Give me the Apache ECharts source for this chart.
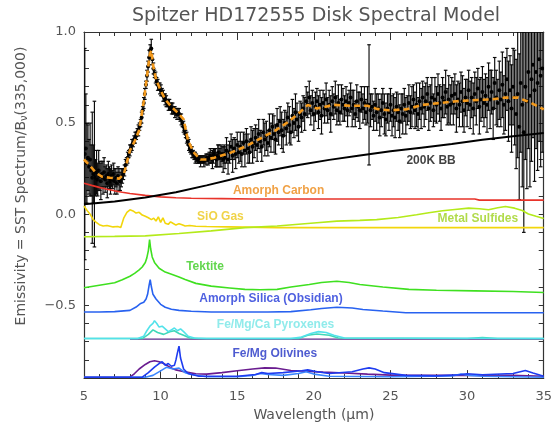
<!DOCTYPE html>
<html><head><meta charset="utf-8">
<script src="https://cdn.jsdelivr.net/npm/echarts@6/dist/echarts.min.js"></script>
<style>html,body{margin:0;padding:0;background:#fff}#c{width:555px;height:427px}</style>
</head><body><div id="c"></div>
<script>
// ---------- spectrum (data points with error bars) ----------
const specWl = [5.05,5.12,5.19,5.26,5.33,5.40,5.47,5.54,5.61,5.68,5.75,5.82,5.89,5.96,6.03,6.10,6.17,6.24,6.31,6.38,6.45,6.52,6.59,6.66,6.73,6.80,6.87,6.94,7.01,7.08,7.15,7.22,7.29,7.36,7.43,7.50,
7.57,7.64,7.71,7.78,7.85,7.92,7.99,8.06,8.13,8.20,
8.27,8.34,8.41,8.48,8.55,8.62,8.69,8.76,8.83,8.90,
8.97,9.04,9.11,9.18,9.25,9.32,9.39,9.46,9.53,9.60,
9.67,9.74,9.81,9.88,9.95,10.02,10.09,10.16,10.23,10.30,
10.37,10.44,10.51,10.58,10.65,10.72,10.79,10.86,10.93,11.00,
11.07,11.14,11.21,11.28,11.35,11.42,11.49,11.56,11.63,11.70,
11.77,11.84,11.91,11.98,12.05,12.12,12.19,12.26,12.33,12.40,
12.47,12.54,12.61,12.68,12.75,12.82,12.89,12.96,13.03,13.10,
13.17,13.24,13.31,13.38,13.45,13.52,13.59,13.66,13.73,13.80,
13.87,13.94,14.01,14.08,14.15,
14.2,14.3,14.4,14.5,14.6,14.7,14.8,14.9,15.0,15.1,
15.2,15.3,15.4,15.5,15.6,15.7,15.8,15.9,16.0,16.1,
16.2,16.3,16.4,16.5,16.6,16.7,16.8,16.9,17.0,17.1,
17.2,17.3,17.4,17.5,17.6,17.7,17.8,17.9,18.0,18.1,
18.2,18.3,18.4,18.5,18.6,18.7,18.8,18.9,19.0,19.1,
19.2,19.3,19.4,19.5,19.6,19.7,19.8,19.9,20.0,20.1,
20.2,20.3,20.4,20.5,20.6,20.7,20.8,20.9,21.0,21.1,
21.2,21.3,21.4,21.5,21.6,21.7,21.8,21.9,22.0,22.1,
22.2,22.3,22.4,22.5,22.6,22.7,22.8,22.9,23.0,23.1,
23.2,23.3,23.4,23.5,23.6,23.7,23.8,23.9,24.0,24.1,
24.2,24.3,24.4,24.5,24.6,24.7,24.8,24.9,25.0,25.1,
25.2,25.3,25.4,25.5,25.6,25.7,25.8,25.9,26.0,26.1,
26.2,26.3,26.4,26.5,26.6,26.7,26.8,26.9,27.0,27.1,
27.2,27.3,27.4,27.5,27.6,27.7,27.8,27.9,28.0,28.1,
28.2,28.3,28.4,28.5,28.6,28.7,28.8,28.9,29.0,29.1,
29.2,29.3,29.4,29.5,29.6,29.7,29.8,29.9,30.0,30.1,
30.2,30.3,30.4,30.5,30.6,30.7,30.8,30.9,31.0,31.1,
31.2,31.3,31.4,31.5,31.6,31.7,31.8,31.9,32.0,32.1,
32.2,32.3,32.4,32.5,32.6,32.7,32.8,32.9,33.0,33.1,
33.2,33.3,33.4,33.5,33.6,33.7,33.8,33.9,34.0,34.1,
34.2,34.3,34.4,34.5,34.6,34.7,34.8,34.9];
const specFlux = [0.33,0.36,0.28,0.31,0.26,0.30,0.24,0.20,0.22,0.22,0.20,0.23,0.19,0.24,0.21,0.18,0.22,0.20,0.23,0.19,0.21,0.17,0.22,0.20,0.18,0.21,0.19,0.22,0.18,0.20,0.17,0.21,0.19,0.18,0.20,0.21,
0.22,0.24,0.27,0.29,0.31,0.33,0.35,0.36,0.38,0.39,
0.41,0.42,0.43,0.45,0.46,0.48,0.50,0.53,0.57,0.61,
0.66,0.71,0.76,0.81,0.86,0.90,0.91,0.85,0.80,0.77,
0.75,0.73,0.71,0.70,0.69,0.68,0.67,0.65,0.64,0.63,
0.62,0.61,0.60,0.60,0.59,0.58,0.58,0.57,0.56,0.56,
0.55,0.56,0.55,0.53,0.52,0.50,0.48,0.46,0.44,0.42,
0.40,0.38,0.36,0.35,0.34,0.33,0.32,0.31,0.31,0.30,
0.30,0.30,0.29,0.30,0.30,0.29,0.30,0.30,0.31,0.30,
0.31,0.32,0.31,0.30,0.32,0.33,0.31,0.30,0.32,0.34,
0.31,0.32,0.33,0.30,0.33,
0.31,0.35,0.30,0.34,0.37,0.32,0.36,0.33,0.38,0.34,
0.37,0.33,0.39,0.35,0.40,0.36,0.34,0.41,0.37,0.39,
0.42,0.38,0.44,0.40,0.37,0.45,0.41,0.43,0.39,0.46,
0.42,0.48,0.44,0.41,0.49,0.45,0.51,0.46,0.43,0.50,
0.47,0.53,0.49,0.45,0.54,0.50,0.56,0.52,0.48,0.55,
0.53,0.58,0.55,0.62,0.60,0.64,0.57,0.61,0.55,0.59,
0.62,0.56,0.60,0.54,0.61,0.58,0.63,0.57,0.60,0.55,
0.62,0.59,0.64,0.57,0.61,0.56,0.63,0.60,0.58,0.62,
0.57,0.61,0.64,0.58,0.60,0.55,0.62,0.59,0.57,0.63,
0.58,0.61,0.56,0.60,0.60,0.57,0.59,0.54,0.60,0.56,
0.58,0.53,0.57,0.61,0.55,0.52,0.58,0.56,0.60,0.54,
0.57,0.53,0.59,0.56,0.51,0.58,0.55,0.60,0.54,0.57,
0.61,0.56,0.59,0.63,0.57,0.60,0.55,0.62,0.58,0.64,
0.59,0.62,0.66,0.58,0.61,0.64,0.57,0.63,0.60,0.66,
0.61,0.58,0.64,0.62,0.67,0.59,0.63,0.60,0.65,0.61,
0.66,0.58,0.63,0.60,0.67,0.62,0.57,0.64,0.61,0.68,
0.60,0.64,0.58,0.66,0.62,0.69,0.59,0.63,0.67,0.61,
0.65,0.60,0.70,0.63,0.67,0.58,0.72,0.64,0.61,0.68,
0.63,0.71,0.60,0.66,0.74,0.62,0.68,0.58,0.70,0.64,
0.55,0.66,0.48,0.72,0.60,0.45,0.70,0.62,0.78,0.65,
0.74,0.82,0.68,0.78,0.72,0.85,0.76,0.80];
const specErr = [0.58,0.30,0.22,0.18,0.15,0.20,0.14,0.36,0.16,0.40,0.10,0.12,0.09,0.11,0.08,0.10,0.07,0.09,0.08,0.07,0.06,0.08,0.07,0.06,0.07,0.06,0.05,0.06,0.07,0.05,0.06,0.05,0.06,0.05,0.05,0.04,
0.03,0.03,0.03,0.02,0.03,0.02,0.03,0.02,0.03,0.02,
0.02,0.03,0.02,0.02,0.03,0.02,0.02,0.03,0.02,0.03,
0.03,0.02,0.03,0.03,0.04,0.03,0.05,0.03,0.03,0.02,
0.03,0.02,0.03,0.02,0.03,0.03,0.02,0.03,0.02,0.03,
0.03,0.02,0.03,0.03,0.02,0.03,0.03,0.02,0.03,0.02,
0.03,0.02,0.03,0.02,0.03,0.02,0.03,0.02,0.02,0.03,
0.02,0.03,0.02,0.02,0.03,0.02,0.02,0.03,0.02,0.02,
0.02,0.02,0.03,0.02,0.02,0.03,0.02,0.03,0.02,0.03,
0.03,0.04,0.03,0.05,0.04,0.03,0.05,0.04,0.06,0.04,
0.05,0.06,0.04,0.07,0.05,
0.06,0.07,0.08,0.06,0.07,0.09,0.06,0.08,0.07,0.06,
0.08,0.07,0.06,0.09,0.07,0.08,0.06,0.07,0.09,0.08,
0.07,0.09,0.08,0.06,0.08,0.07,0.09,0.08,0.07,0.09,
0.08,0.07,0.10,0.08,0.09,0.07,0.08,0.10,0.09,0.07,
0.09,0.08,0.10,0.07,0.09,0.08,0.10,0.09,0.08,0.07,
0.08,0.07,0.09,0.08,0.07,0.09,0.08,0.07,0.09,0.08,
0.07,0.09,0.08,0.10,0.07,0.08,0.09,0.07,0.08,0.10,
0.08,0.07,0.09,0.08,0.10,0.07,0.08,0.09,0.07,0.08,
0.09,0.07,0.08,0.10,0.08,0.07,0.09,0.08,0.10,0.07,
0.08,0.09,0.07,0.10,0.33,0.09,0.07,0.08,0.09,0.10,
0.08,0.10,0.09,0.08,0.11,0.09,0.08,0.10,0.09,0.11,
0.09,0.11,0.08,0.10,0.09,0.08,0.11,0.09,0.10,0.08,
0.10,0.09,0.11,0.08,0.10,0.12,0.09,0.10,0.11,0.09,
0.11,0.10,0.09,0.12,0.10,0.11,0.09,0.12,0.10,0.11,
0.10,0.12,0.11,0.09,0.12,0.10,0.13,0.11,0.10,0.12,
0.11,0.13,0.10,0.12,0.11,0.14,0.12,0.10,0.13,0.11,
0.13,0.11,0.14,0.12,0.13,0.11,0.15,0.12,0.14,0.13,
0.12,0.15,0.13,0.16,0.12,0.17,0.14,0.15,0.13,0.16,
0.15,0.18,0.16,0.20,0.17,0.22,0.19,0.24,0.21,0.26,
0.30,0.35,0.40,0.38,0.45,0.55,0.40,0.48,0.42,0.50,
0.45,0.40,0.50,0.42,0.48,0.45,0.50,0.46];

// ---------- model (orange dashed) ----------
const modelWl  = [5,5.4,5.8,6.2,6.7,7.3,7.6,8.0,8.3,8.6,8.9,9.1,9.3,9.4,9.5,9.7,10.0,10.3,10.7,11.2,11.5,11.8,12.2,12.6,13.0,13.5,14.5,15.5,16.5,17.5,18.3,19.1,19.6,20.2,21.3,22.4,23.5,24.1,24.9,26.0,27.1,28.2,29.3,30.3,31.6,32.5,33.3,34.2,35];
const modelVal = [0.30,0.265,0.225,0.205,0.20,0.195,0.22,0.35,0.40,0.46,0.62,0.75,0.88,0.90,0.82,0.74,0.68,0.63,0.59,0.55,0.52,0.40,0.335,0.30,0.30,0.31,0.335,0.37,0.415,0.46,0.505,0.56,0.60,0.58,0.60,0.595,0.595,0.578,0.57,0.575,0.60,0.61,0.62,0.625,0.63,0.64,0.64,0.61,0.575];

// ---------- components ----------
const bbWl  = [5,7,9,11,13,15,17,19,21,23,25,27,29,31,33,35];
const bbVal = [0.055,0.07,0.092,0.12,0.158,0.198,0.238,0.27,0.298,0.322,0.345,0.365,0.385,0.408,0.428,0.445];

const carbonWl  = [5,5.5,6,6.5,7,7.5,8,9,10,11,12,14,16,20,25,30.5,30.8,35];
const carbonVal = [0.17,0.158,0.147,0.137,0.128,0.12,0.113,0.103,0.095,0.09,0.087,0.085,0.083,0.083,0.083,0.083,0.077,0.077];

const sioWl  = [5.0,5.2,5.4,5.6,5.8,6.0,6.25,6.5,6.9,7.2,7.4,7.6,7.8,8.0,8.2,8.4,8.6,8.8,9.0,9.2,9.4,9.55,9.7,9.85,10.0,10.15,10.3,10.5,10.65,10.8,11.0,11.2,11.4,11.6,11.9,12.3,13,14.4,17.6,20,35];
const sioVal = [0.045,0.02,0.0,-0.03,-0.045,-0.058,-0.065,-0.062,-0.07,-0.068,-0.073,-0.02,0.01,0.024,0.018,0.006,0.01,-0.005,-0.012,-0.02,-0.03,-0.022,-0.038,-0.015,-0.045,-0.02,-0.05,-0.056,-0.042,-0.05,-0.06,-0.052,-0.058,-0.065,-0.062,-0.066,-0.068,-0.07,-0.074,-0.074,-0.074];

const sulfWl  = [5,7,9,11.2,13.3,15.5,17.6,19,20.2,21.5,23,24.1,25.5,26.7,27.5,28.4,29.2,30.1,30.8,31.4,32,32.5,33.1,33.6,34,34.5,35];
const sulfVal = [-0.124,-0.122,-0.119,-0.106,-0.092,-0.074,-0.065,-0.055,-0.047,-0.038,-0.034,-0.03,-0.018,-0.003,0.008,0.019,0.026,0.033,0.03,0.024,0.035,0.042,0.033,0.02,0.001,-0.012,-0.024];

const tektWl  = [5,6,7,7.5,8,8.3,8.6,8.8,9.0,9.1,9.2,9.28,9.35,9.45,9.6,9.9,10.3,10.8,11.2,11.6,12.3,13.3,14.5,15.5,16.5,17.6,18.5,19.7,20.5,21.5,22.3,23,24.5,26.2,28,30.5,33,35];
const tektVal = [-0.404,-0.39,-0.377,-0.36,-0.341,-0.325,-0.306,-0.29,-0.265,-0.24,-0.2,-0.14,-0.19,-0.235,-0.265,-0.297,-0.318,-0.333,-0.345,-0.359,-0.38,-0.395,-0.405,-0.413,-0.415,-0.413,-0.4,-0.386,-0.375,-0.368,-0.375,-0.386,-0.4,-0.413,-0.418,-0.421,-0.425,-0.43];

const silicaWl  = [5,6,7,8,8.4,8.7,8.9,9.05,9.15,9.25,9.32,9.4,9.5,9.7,10.0,10.3,10.7,11.2,12,13.3,15,17,18.5,19.8,20.5,21.5,22.5,23.2,24.5,26,30,35];
const silicaVal = [-0.537,-0.537,-0.535,-0.528,-0.51,-0.49,-0.484,-0.466,-0.44,-0.39,-0.36,-0.40,-0.44,-0.466,-0.495,-0.511,-0.522,-0.528,-0.533,-0.537,-0.537,-0.537,-0.535,-0.525,-0.518,-0.511,-0.515,-0.523,-0.532,-0.541,-0.541,-0.541];

const pyrBaseWl  = [8,35];
const pyrBaseVal = [-0.686,-0.686];
const pyr1Wl  = [5,8.5,8.9,9.1,9.3,9.5,9.6,9.75,9.9,10.1,10.3,10.5,10.7,10.9,11.1,11.3,11.5,11.8,12.2,13,18.5,19.2,19.8,20.3,20.8,21.3,22,35];
const pyr1Val = [-0.683,-0.683,-0.67,-0.64,-0.615,-0.60,-0.585,-0.60,-0.62,-0.615,-0.63,-0.645,-0.635,-0.625,-0.64,-0.63,-0.645,-0.67,-0.68,-0.683,-0.683,-0.675,-0.655,-0.645,-0.65,-0.665,-0.68,-0.683];
const pyr2Wl  = [5,8.8,9.2,9.5,9.8,10.2,10.6,10.9,11.2,11.5,11.9,12.5,19,19.6,20.2,21,21.6,30,31,32,35];
const pyr2Val = [-0.683,-0.683,-0.66,-0.635,-0.65,-0.66,-0.645,-0.64,-0.655,-0.665,-0.68,-0.683,-0.683,-0.665,-0.658,-0.665,-0.68,-0.683,-0.677,-0.683,-0.683];

const olivPWl  = [5,8,8.3,8.6,9,9.3,9.6,9.9,10.2,10.6,11,11.6,12.3,13,14,15,16,16.8,17.5,18.5,19.5,20.6,22,23.5,25.4,28,30,32.9,35];
const olivPVal = [-0.895,-0.895,-0.875,-0.85,-0.825,-0.81,-0.805,-0.81,-0.82,-0.84,-0.855,-0.866,-0.876,-0.878,-0.87,-0.86,-0.85,-0.844,-0.845,-0.858,-0.862,-0.867,-0.872,-0.878,-0.885,-0.885,-0.885,-0.885,-0.89];
const olivBWl  = [5,8.8,9.2,9.6,9.9,10.1,10.3,10.5,10.7,10.9,11.0,11.1,11.2,11.3,11.5,11.8,12.5,15,16.2,16.6,17,18,19.2,19.6,20.2,21,22.5,23.2,23.6,24,24.6,26,28,29.5,30,31,33,33.8,34.3,35];
const olivBVal = [-0.895,-0.895,-0.87,-0.84,-0.82,-0.81,-0.83,-0.82,-0.835,-0.83,-0.80,-0.76,-0.725,-0.79,-0.85,-0.875,-0.89,-0.89,-0.88,-0.87,-0.875,-0.87,-0.86,-0.855,-0.865,-0.875,-0.865,-0.85,-0.844,-0.85,-0.87,-0.885,-0.888,-0.882,-0.876,-0.882,-0.875,-0.858,-0.872,-0.89];
const olivLWl  = [5,9,9.5,10,10.4,10.8,11.2,11.6,12,13,15,16,16.5,17,18,19,19.5,20,21,25,29,29.6,30.2,31,35];
const olivLVal = [-0.895,-0.895,-0.885,-0.86,-0.84,-0.85,-0.845,-0.87,-0.88,-0.893,-0.893,-0.885,-0.875,-0.88,-0.885,-0.875,-0.865,-0.878,-0.89,-0.893,-0.888,-0.878,-0.885,-0.89,-0.895];

// ---------- labels (wavelength, value, text, colour) ----------
const labelWl   = [27.65, 17.7, 13.9, 30.7, 12.9, 17.2, 17.5, 17.45];
const labelVal  = [0.291, 0.131, -0.013, -0.024, -0.286, -0.463, -0.607, -0.767];
const labelText = ['200K BB','Amorph Carbon','SiO Gas','Metal Sulfides','Tektite','Amorph Silica (Obsidian)','Fe/Mg/Ca Pyroxenes','Fe/Mg Olivines'];
const labelColor= ['#111','#ec8a16','#ecc81a','#9ed21e','#3ccc22','#2238d8','#74e6e6','#2232c4'];

const xTicks = [5,10,15,20,25,30,35];
const yTicks = [-0.5,0.0,0.5,1.0];

// ---------- chart ----------
const chart = echarts.init(document.getElementById('c'), null, {renderer:'canvas'});
const pairs = (w,v) => w.map((x,i)=>[x,v[i]]);
const FONT = 'DejaVu Sans';
const GREY = '#555';
const axisCol = '#333';

function lineSeries(w,v,color,width,z){
  return {type:'line', data:pairs(w,v), showSymbol:false, symbol:'none', smooth:false,
    lineStyle:{color:color,width:width}, z:z, silent:true, animation:false};
}

const yLab = v => {
  const r = Math.round(v*2)/2;
  if (Math.abs(v - r) > 1e-6 || !yTicks.some(t=>Math.abs(t-r)<1e-6)) return '';
  return (r<0?'\u2212':'') + Math.abs(r).toFixed(1);
};

const commonX = {type:'value', min:5, max:35, interval:5, splitLine:{show:false},
  axisLine:{show:true,onZero:false,lineStyle:{color:axisCol,width:1.2}},
  axisTick:{show:true,inside:true,length:8,lineStyle:{color:axisCol}},
  minorTick:{show:true,splitNumber:5,length:4,lineStyle:{color:axisCol}}};
const commonY = {type:'value', min:-0.9, max:1.0, interval:0.1, splitLine:{show:false},
  axisLine:{show:true,onZero:false,lineStyle:{color:axisCol,width:1.2}},
  axisTick:{show:true,inside:true,length:5,lineStyle:{color:axisCol}}};

const option = {
  backgroundColor:'#fff',
  animation:false,
  grid:{left:84, right:6, top:32, bottom:39, containLabel:false},
  graphic:[
    {type:'text', x:316, y:16, style:{text:'Spitzer HD172555 Disk Spectral Model', fill:GREY,
      font:'19px "DejaVu Sans"', textAlign:'center', textVerticalAlign:'middle'}},
    {type:'text', x:21, y:186, rotation:Math.PI/2,
      style:{text:'Emissivity = SST Spectrum/B{s|\u03bd}(335,000)', fill:GREY,
        fontSize:14, fontFamily:FONT, align:'center', verticalAlign:'middle',
        rich:{s:{fontSize:10, fontFamily:FONT, fill:GREY, padding:[7,0,0,0]}}}}
  ],
  xAxis:[
    Object.assign({}, commonX, {position:'bottom',
      axisLabel:{color:GREY,fontSize:13,fontFamily:FONT,margin:12,
        formatter:v=> xTicks.includes(v)? String(v):''},
      name:'Wavelength (\u00b5m)', nameLocation:'middle', nameGap:24,
      nameTextStyle:{color:GREY,fontSize:14,fontFamily:FONT}}),
    Object.assign({}, commonX, {position:'top', axisLabel:{show:false}})
  ],
  yAxis:[
    Object.assign({}, commonY, {position:'left',
      axisLabel:{color:GREY,fontSize:13,fontFamily:FONT,margin:8,formatter:yLab}}),
    Object.assign({}, commonY, {position:'right', axisLabel:{show:false}})
  ],
  series:[
    {type:'custom', clip:true, z:2, silent:true, animation:false,
     data: specWl.map((w,i)=>[w,specFlux[i],specErr[i]]),
     encode:{x:0,y:1},
     renderItem:function(params, api){
       const x=api.value(0), y=api.value(1), e=api.value(2);
       const p=api.coord([x,y]), t=api.coord([x,y+e]), b=api.coord([x,y-e]);
       const c=1.8, st={stroke:'#0a0a0a',lineWidth:1.15};
       return {type:'group', children:[
         {type:'line', shape:{x1:p[0],y1:t[1],x2:p[0],y2:b[1]}, style:st},
         {type:'line', shape:{x1:p[0]-c,y1:t[1],x2:p[0]+c,y2:t[1]}, style:st},
         {type:'line', shape:{x1:p[0]-c,y1:b[1],x2:p[0]+c,y2:b[1]}, style:st},
         {type:'circle', shape:{cx:p[0],cy:p[1],r:2.0}, style:{fill:'#000'}}
       ]};
     }},
    lineSeries(bbWl,bbVal,'#000',2,5),
    lineSeries(carbonWl,carbonVal,'#e8332a',1.6,4),
    lineSeries(sioWl,sioVal,'#f2d60c',1.6,4),
    lineSeries(sulfWl,sulfVal,'#b4ea1a',1.6,4),
    lineSeries(tektWl,tektVal,'#3fe020',1.6,4),
    lineSeries(silicaWl,silicaVal,'#2862f0',1.6,4),
    lineSeries(pyrBaseWl,pyrBaseVal,'#5a2a8a',1.4,4),
    lineSeries(pyr2Wl,pyr2Val,'#40d8b8',1.6,4),
    lineSeries(pyr1Wl,pyr1Val,'#52e2ea',1.6,4),
    lineSeries(olivPWl,olivPVal,'#6a1c90',1.6,4),
    lineSeries(olivLWl,olivLVal,'#3a86ff',1.6,4),
    lineSeries(olivBWl,olivBVal,'#1e3cf0',1.6,4),
    {type:'line', data:pairs(modelWl,modelVal), showSymbol:false, symbol:'none', z:6, silent:true,
     lineStyle:{color:'#f49a1c',width:2.6,type:[6,4]}},
    {type:'scatter', symbolSize:0, z:7, silent:true,
     data: labelWl.map((w,i)=>({value:[w,labelVal[i]],
       label:{show:true,formatter:labelText[i],color:labelColor[i]}})),
     label:{show:true,position:'inside',fontSize:12,fontWeight:'bold',fontFamily:'Liberation Sans'}}
  ]
};
chart.setOption(option);
</script>
</body></html>
